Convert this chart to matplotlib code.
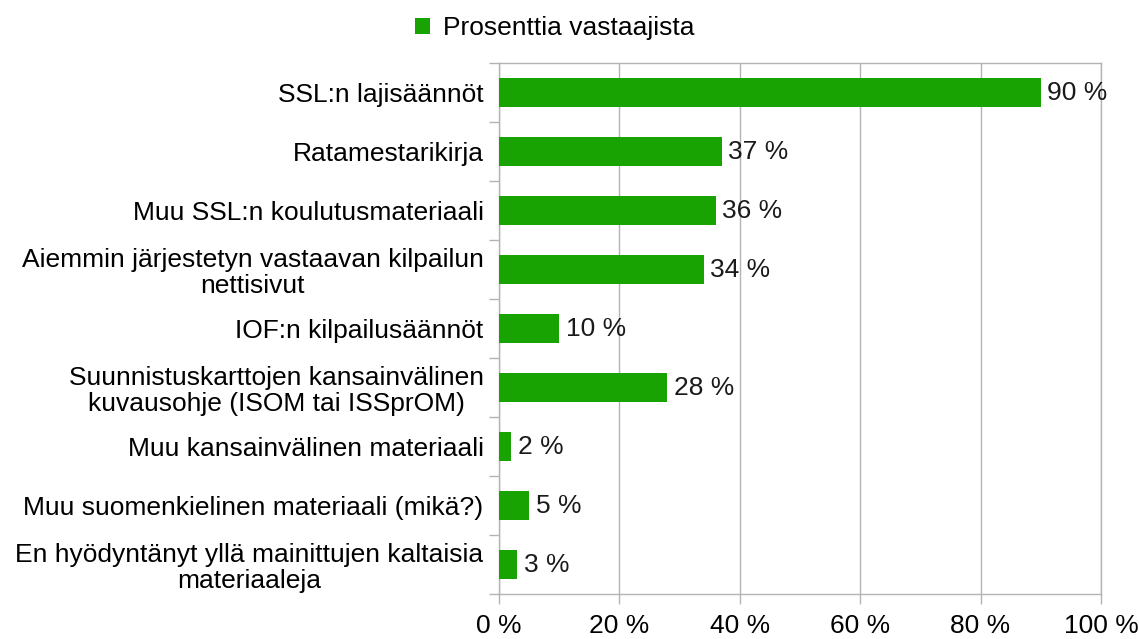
import numpy as np
import matplotlib.pyplot as plt
from matplotlib.ticker import MultipleLocator, FixedLocator

plt.rcParams['font.family'] = ['Liberation Sans', 'DejaVu Sans']

# data
categories = [
    "SSL:n lajisäännöt",
    "Ratamestarikirja",
    "Muu SSL:n koulutusmateriaali",
    "Aiemmin järjestetyn vastaavan kilpailun\nnettisivut",
    "IOF:n kilpailusäännöt",
    "Suunnistuskarttojen kansainvälinen\nkuvausohje (ISOM tai ISSprOM)",
    "Muu kansainvälinen materiaali",
    "Muu suomenkielinen materiaali (mikä?)",
    "En hyödyntänyt yllä mainittujen kaltaisia\nmateriaaleja",
]
values = [90, 37, 36, 34, 10, 28, 2, 5, 3]
series_name = "Prosenttia vastaajista"

bar_color = '#18a303'
grid_color = '#b3b3b3'
fs = 19

fig = plt.figure(figsize=(11.39, 6.39), dpi=100)
ax = fig.add_axes([0.438, 0.0704, 0.5286, 0.831])

y = np.arange(len(categories))
bars = ax.barh(y, values, height=0.5, color=bar_color, label=series_name, zorder=3)

for yi, v in zip(y, values):
    ax.text(v + 1.1, yi, f"{v} %", va='center', ha='left', fontsize=fs, color='#1a1a1a', zorder=4)

ax.set_xlim(0, 100)
ax.set_ylim(len(categories) - 0.5, -0.5)
ax.xaxis.set_major_locator(MultipleLocator(20))
ax.set_xticklabels([f"{int(t)} %" for t in ax.get_xticks()])
ax.set_yticks(y)
ax.set_yticklabels(categories, fontsize=fs, ha='right', multialignment='center', linespacing=1.1)
ax.yaxis.set_minor_locator(FixedLocator(np.arange(-0.5, len(categories), 1)))

ax.tick_params(axis='x', length=7.2, width=1, color=grid_color, labelsize=fs, pad=7.5)
ax.tick_params(axis='y', which='major', length=0, pad=11)
ax.tick_params(axis='y', which='minor', length=7.2, width=1, color=grid_color)

ax.grid(axis='x', color=grid_color, lw=1, zorder=0)
for s in ax.spines.values():
    s.set_color(grid_color)
    s.set_linewidth(1)

fig.legend(handles=[bars], labels=[series_name], loc='center', bbox_to_anchor=(0.487, 0.956),
           frameon=False, fontsize=fs, handlelength=0.55, handleheight=0.55, handletextpad=0.5)

fig.savefig('out.png', dpi=100, facecolor='white')
